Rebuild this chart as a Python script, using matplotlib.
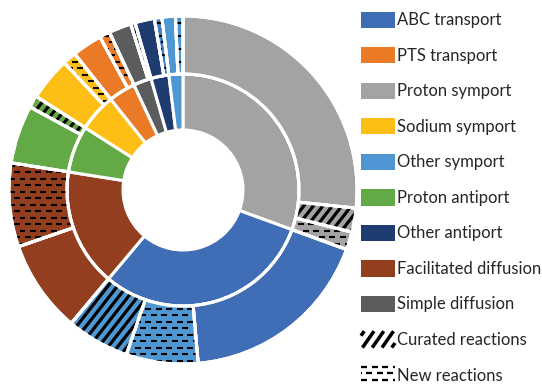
import numpy as np
import matplotlib
matplotlib.use("Agg")
import matplotlib.pyplot as plt
from matplotlib.patches import Patch, Wedge
from matplotlib.collections import LineCollection
from matplotlib.legend_handler import HandlerBase

# ---- data (clockwise from 12 o'clock) ----
ring_categories = ["Proton symport", "ABC transport", "Facilitated diffusion",
                   "Proton antiport", "Sodium symport", "PTS transport",
                   "Simple diffusion", "Other antiport", "Other symport"]

# outer ring: each transport class split into existing / curated / new reactions
outer_values = [96, 8, 6,          # Proton symport
                65, 24, 21,        # ABC transport
                31, 28,            # Facilitated diffusion
                19.5, 4,           # Proton antiport
                14.5, 4.5,         # Sodium symport
                10, 3.5,           # PTS transport
                7.5, 1.5,          # Simple diffusion
                6.5, 2.5,          # Other antiport
                4.5, 2.5]          # Other symport
outer_group = [0, 0, 0, 1, 1, 1, 2, 2, 3, 3, 4, 4, 5, 5, 6, 6, 7, 7, 8, 8]
outer_kind = ["plain", "curated", "new",
              "plain", "new", "curated",
              "plain", "new",
              "plain", "curated",
              "plain", "new",
              "plain", "new",
              "plain", "curated",
              "plain", "new",
              "plain", "new"]

legend_labels = ["ABC transport", "PTS transport", "Proton symport",
                 "Sodium symport", "Other symport", "Proton antiport",
                 "Other antiport", "Facilitated diffusion", "Simple diffusion"]
pattern_labels = ["Curated reactions", "New reactions"]

colors = {
    "ABC transport": "#3F6DB6",
    "PTS transport": "#EB7A27",
    "Proton symport": "#A3A3A3",
    "Sodium symport": "#FDBE15",
    "Other symport": "#4E97D3",
    "Proton antiport": "#63A945",
    "Other antiport": "#1F3C70",
    "Facilitated diffusion": "#933F1F",
    "Simple diffusion": "#5A5C5D",
}
# background colour of patterned pieces where it differs from the class colour
pattern_bg = {"ABC transport": "#4E97D3", "Other antiport": "#3F7FC0"}

inner_values = [sum(v for v, g in zip(outer_values, outer_group) if g == i)
                for i in range(len(ring_categories))]

# ---- geometry ----
W_PX, H_PX = 542, 386
CX, CY, R_PX = 183, 190, 174
PX = 1.0 / R_PX  # one pixel in data units


def clip_segment(p, q, box):
    x0, y0, x1, y1 = box
    dx, dy = q[0] - p[0], q[1] - p[1]
    t0, t1 = 0.0, 1.0
    for pp, qq in ((-dx, p[0] - x0), (dx, x1 - p[0]), (-dy, p[1] - y0), (dy, y1 - p[1])):
        if pp == 0:
            if qq < 0:
                return None
        else:
            t = qq / pp
            if pp < 0:
                t0 = max(t0, t)
            else:
                t1 = min(t1, t)
    if t0 >= t1:
        return None
    return [(p[0] + t0 * dx, p[1] + t0 * dy), (p[0] + t1 * dx, p[1] + t1 * dy)]


def hatch_segments(kind, box, px, angle=52, spacing=7.5):
    x0, y0, x1, y1 = box
    segs = []
    if kind == "curated":
        a = np.deg2rad(angle)
        d = np.array([np.cos(a), np.sin(a)])
        n = np.array([-np.sin(a), np.cos(a)])
        c = np.array([(x0 + x1) / 2, (y0 + y1) / 2])
        L = np.hypot(x1 - x0, y1 - y0)
        step = spacing * px
        N = int(L / step) + 2
        for k in range(-N, N + 1):
            p = c + n * k * step
            s = clip_segment(p - d * L, p + d * L, box)
            if s:
                segs.append(s)
    else:
        row, dash, gap = 6.5 * px, 6 * px, 4.5 * px
        period = dash + gap
        y = y0 + row / 2
        i = 0
        while y < y1:
            x = x0 - period + (i % 2) * period / 2
            while x < x1:
                a_, b_ = max(x, x0), min(x + dash, x1)
                if b_ > a_:
                    segs.append([(a_, y), (b_, y)])
                x += period
            y += row
            i += 1
    return segs


LW = {"curated": 2.3, "new": 1.5}

fig = plt.figure(figsize=(W_PX / 100, H_PX / 100), dpi=100)
ax = fig.add_axes([(CX - R_PX) / W_PX, (H_PX - CY - R_PX) / H_PX,
                   2 * R_PX / W_PX, 2 * R_PX / H_PX])

r_mid = 116 / R_PX
r_hole = 60 / R_PX

inner_colors = [colors[c] for c in ring_categories]
inner_wedges, _ = ax.pie(inner_values, radius=r_mid, startangle=90, counterclock=False,
                         colors=inner_colors,
                         wedgeprops=dict(width=r_mid - r_hole, edgecolor="white", linewidth=2.2))

outer_colors = []
for g, k in zip(outer_group, outer_kind):
    cat = ring_categories[g]
    if k != "plain" and cat in pattern_bg:
        outer_colors.append(pattern_bg[cat])
    else:
        outer_colors.append(colors[cat])

outer_wedges, _ = ax.pie(outer_values, radius=1.0, startangle=90, counterclock=False,
                         colors=outer_colors,
                         wedgeprops=dict(width=1.0 - r_mid, edgecolor="white", linewidth=2.2))

for w, k in zip(outer_wedges, outer_kind):
    if k != "plain":
        lc = LineCollection(hatch_segments(k, (-1, -1, 1, 1), PX), colors="black",
                            linewidths=LW[k], capstyle="butt", zorder=3)
        lc.set_clip_path(w)
        ax.add_collection(lc)
    ax.add_patch(Wedge(w.center, w.r, w.theta1, w.theta2, width=w.width, fill=False,
                       edgecolor="white", linewidth=2.2, zorder=4))

ax.set_xlim(-1, 1)
ax.set_ylim(-1, 1)
ax.set_aspect("equal")
ax.axis("off")


class PatternHandler(HandlerBase):
    def __init__(self, kind):
        super().__init__()
        self.kind = kind

    def create_artists(self, legend, orig_handle, xdescent, ydescent, width, height,
                       fontsize, trans):
        box = (-xdescent, -ydescent, -xdescent + width, -ydescent + height)
        px = 0.72  # one pixel in points
        if self.kind == "curated":
            segs = hatch_segments("curated", box, px, angle=55, spacing=8)
        else:
            segs = hatch_segments("new", box, px)
        lc = LineCollection(segs, colors="black", linewidths=LW[self.kind] * 1.1,
                            capstyle="butt", transform=trans)
        return [lc]


handles = [Patch(facecolor=colors[c], edgecolor="none") for c in legend_labels]
curated_handle = Patch(facecolor="white", edgecolor="none")
new_handle = Patch(facecolor="white", edgecolor="none")
handles += [curated_handle, new_handle]
labels = legend_labels + pattern_labels

fs = 12
fs_px = fs * 100 / 72
fig.legend(handles, labels, loc="upper left",
           bbox_to_anchor=(361 / W_PX, 1 - 11.5 / H_PX),
           frameon=False, borderpad=0, borderaxespad=0,
           handlelength=34 / fs_px, handleheight=19 / fs_px,
           handletextpad=2 / fs_px, labelspacing=(38.4 - 19 - 0.75) / fs_px,
           prop=dict(family="Lato", size=fs), labelcolor="#262626",
           handler_map={curated_handle: PatternHandler("curated"),
                        new_handle: PatternHandler("new")})

fig.savefig("out.png", dpi=100)
